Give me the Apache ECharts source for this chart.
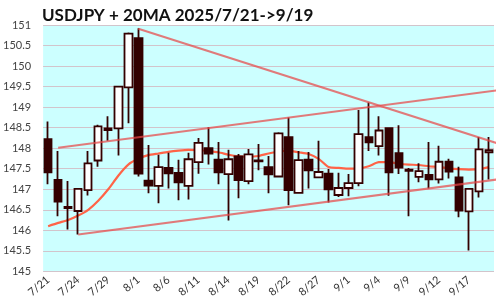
<!DOCTYPE html>
<html>
<head>
<meta charset="utf-8">
<script src="https://cdn.jsdelivr.net/npm/echarts@6/dist/echarts.min.js"></script>
<style>html,body{margin:0;padding:0;background:#fff}#c{width:500px;height:300px}</style>
</head>
<body>
<div id="c"></div>
<script>
var dates = ['7/21','7/22','7/23','7/24','7/25','7/28','7/29','7/30','7/31','8/1','8/4','8/5','8/6','8/7','8/8','8/11','8/12','8/13','8/14','8/15','8/18','8/19','8/20','8/21','8/22','8/25','8/26','8/27','8/28','8/29','9/1','9/2','9/3','9/4','9/5','9/8','9/9','9/10','9/11','9/12','9/15','9/16','9/17','9/18','9/19'];
// [open, close, low, high]
var ohlc = [
[148.22,147.41,147.12,148.65],[147.23,146.70,146.34,147.93],[146.57,146.54,146.02,147.20],[146.47,147.01,145.90,147.01],
[146.98,147.63,146.85,147.93],[147.70,148.53,147.55,148.57],[148.44,148.48,148.18,148.78],[148.48,149.50,147.82,149.50],
[149.48,150.79,148.61,150.82],[150.68,147.38,147.31,150.92],[147.21,147.09,146.90,148.08],[147.08,147.54,146.66,147.84],
[147.52,147.39,147.02,147.89],[147.40,147.17,146.73,147.72],[147.08,147.73,146.75,147.89],[147.66,148.13,147.38,148.25],
[148.00,147.87,147.60,148.51],[147.72,147.41,147.12,148.15],[147.37,147.73,146.24,147.96],[147.80,147.22,146.78,147.86],
[147.20,147.85,147.12,147.98],[147.70,147.68,147.46,148.10],[147.54,147.36,146.90,147.81],[147.31,148.36,147.29,148.39],
[148.27,146.98,146.61,148.75],[146.91,147.71,146.91,147.93],[147.72,147.46,147.02,147.91],[147.29,147.42,147.29,148.18],
[147.38,147.00,146.68,147.49],[146.86,147.03,146.81,147.40],[147.03,147.15,146.83,147.37],[147.15,148.34,147.07,148.93],
[148.27,148.14,147.93,149.11],[148.05,148.43,147.82,148.78],[148.49,147.41,146.84,148.51],[147.88,147.53,147.37,148.56],
[147.48,147.45,146.34,147.52],[147.30,147.44,147.17,147.63],[147.35,147.24,147.02,148.15],[147.24,147.67,147.14,148.06],
[147.67,147.43,147.26,147.74],[147.29,146.48,146.32,147.55],[146.46,147.01,145.51,147.03],[146.95,147.97,146.80,148.27],
[147.90,147.95,147.24,148.27]
];
var ma20 = [146.10,146.18,146.25,146.36,146.50,146.72,147.00,147.33,147.60,147.74,147.83,147.87,147.91,147.94,147.96,147.95,147.93,147.90,147.84,147.80,147.79,147.81,147.87,147.92,147.94,147.90,147.86,147.74,147.54,147.52,147.50,147.51,147.56,147.66,147.66,147.62,147.60,147.59,147.56,147.54,147.51,147.49,147.48,147.49,147.54];
var trendUpper = [[1,148.01],[45.2,149.42]];
var trendLower = [[3,145.90],[45.2,147.25]];
var trendDown = [[9,150.91],[45.2,148.09]];
var yTicks = {min:145, max:151, interval:0.5};

var trendStyle = {color:'rgba(232,70,70,0.72)', width:2};
var chart = echarts.init(document.getElementById('c'), null, {renderer:'canvas'});
chart.setOption({
  animation:false,
  title:{text:'USDJPY + 20MA 2025/7/21->9/19', left:37, top:2, textStyle:{fontFamily:'Lato', fontWeight:'bold', fontSize:17, color:'#111'}},
  grid:{left:40, right:6, top:25, bottom:27, show:true, backgroundColor:'#ccffff', borderWidth:0},
  xAxis:[{
    type:'category', data:dates, boundaryGap:true,
    axisLine:{show:false}, axisTick:{show:false}, splitLine:{show:false},
    axisLabel:{interval:2, rotate:40, fontFamily:'Lato', fontSize:11, color:'#333', margin:7}
  },{
    type:'value', min:-0.5, max:44.5, show:false
  }],
  yAxis:{
    type:'value', min:yTicks.min, max:yTicks.max, interval:yTicks.interval,
    axisLine:{show:false}, axisTick:{show:false},
    splitLine:{lineStyle:{color:'#d2c4cb', width:1}},
    axisLabel:{fontFamily:'Lato', fontSize:11, color:'#444', margin:12}
  },
  series:[
    {type:'line', data:ma20, xAxisIndex:0, symbol:'none', smooth:0.2, lineStyle:{color:'#ff6347', width:2.2}, z:2},
    {type:'candlestick', data:ohlc, xAxisIndex:0, barWidth:8,
      itemStyle:{color:'#ffffff', color0:'#330000', borderColor:'#330000', borderColor0:'#330000', borderWidth:1.8}, z:3},
    {type:'line', data:trendUpper, xAxisIndex:1, symbol:'none', clip:false, lineStyle:trendStyle, z:4},
    {type:'line', data:trendLower, xAxisIndex:1, symbol:'none', clip:false, lineStyle:trendStyle, z:4},
    {type:'line', data:trendDown, xAxisIndex:1, symbol:'none', clip:false, lineStyle:trendStyle, z:4}
  ]
});
</script>
</body>
</html>
